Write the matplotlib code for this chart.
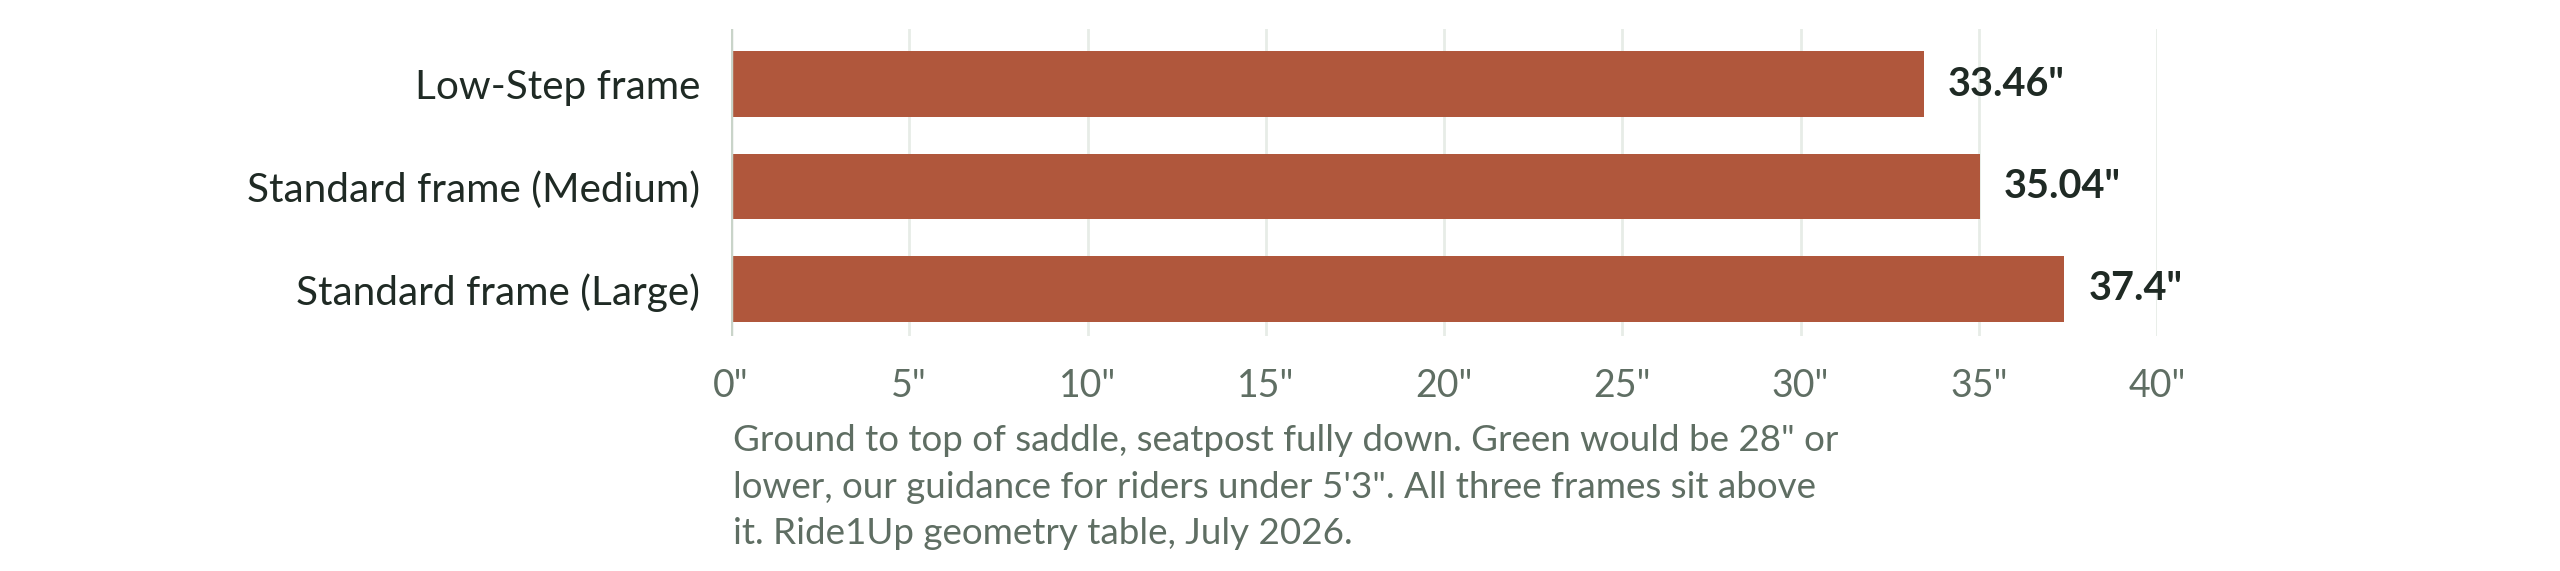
import matplotlib
matplotlib.use("Agg")
import matplotlib.pyplot as plt

categories = ["Low-Step frame", "Standard frame (Medium)", "Standard frame (Large)"]
values = [33.46, 35.04, 37.4]
value_labels = ['33.46"', '35.04"', '37.4"']
xticks = [0, 5, 10, 15, 20, 25, 30, 35, 40]
xtick_labels = ['0"', '5"', '10"', '15"', '20"', '25"', '30"', '35"', '40"']
caption = ('Ground to top of saddle, seatpost fully down. Green would be 28" or\n'
           'lower, our guidance for riders under 5\'3". All three frames sit above\n'
           'it. Ride1Up geometry table, July 2026.')

FONT = ["Lato", "DejaVu Sans"]
BAR = "#b0573c"
DARK = "#1f2a24"
MUTED = "#5f6e63"

W, H = 2560, 571
fig = plt.figure(figsize=(W / 100, H / 100), dpi=100)
ax = fig.add_axes([731 / W, 1 - 336 / H, (2157 - 731) / W, (336 - 29) / H])

ypos = list(range(len(categories)))
ax.barh(ypos, values, height=0.644, color=BAR, zorder=3)
ax.set_ylim(2.459, -0.537)
ax.set_xlim(0, 40)

ax.set_xticks(xticks)
ax.set_xticklabels(xtick_labels, fontsize=27, color=MUTED, family=FONT)
ax.set_yticks(ypos)
ax.set_yticklabels(categories, fontsize=29.2, color=DARK, family=FONT)
ax.tick_params(axis="x", length=0, pad=23)
ax.tick_params(axis="y", length=0, pad=22)

for s in ax.spines.values():
    s.set_visible(False)
ax.grid(axis="x", color="#e7ece7", linewidth=2, zorder=0)
ax.axvline(0, color="#c9d4c9", linewidth=2.5, zorder=4)

for y, v, lab in zip(ypos, values, value_labels):
    ax.annotate(lab, (v, y), xytext=(24 * 0.72, 0), textcoords="offset points",
                va="center", ha="left", fontsize=28.5, fontweight="bold",
                color=DARK, family=FONT)

fig.text(733 / W, 1 - 424 / H, caption, ha="left", va="top", fontsize=26.5,
         color=MUTED, family=FONT, linespacing=1.5)

fig.savefig("out.png", dpi=100, facecolor="white")
